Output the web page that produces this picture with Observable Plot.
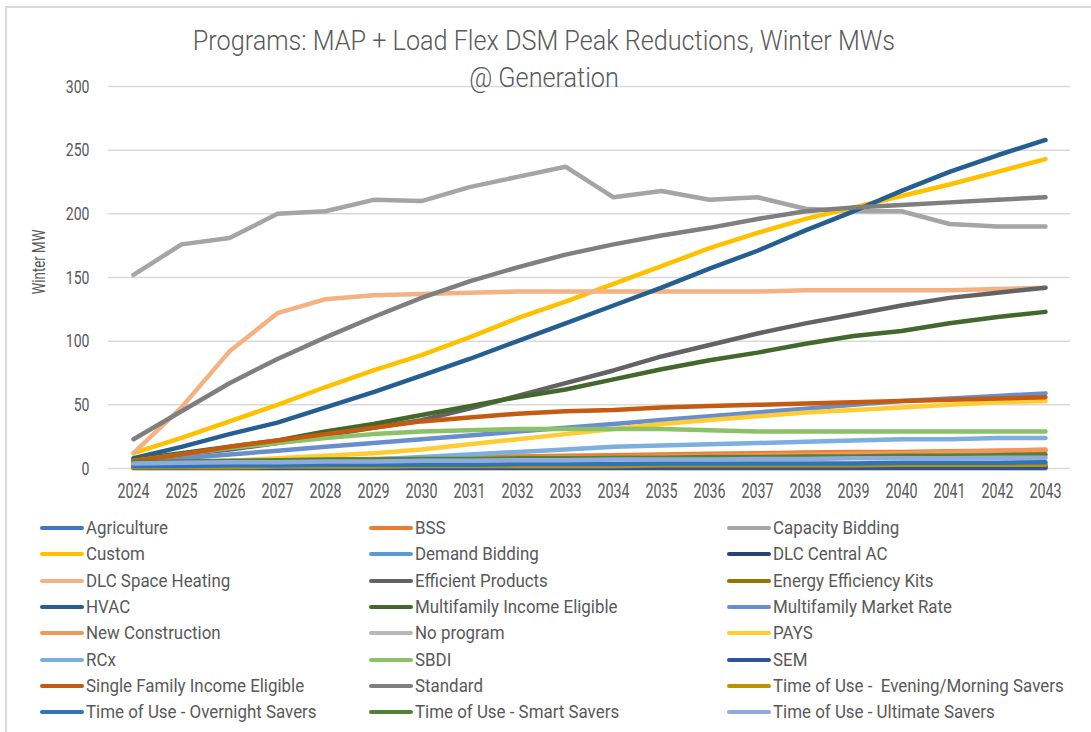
<!DOCTYPE html>
<html>
<head>
<meta charset="utf-8">
<script src="https://cdn.jsdelivr.net/npm/d3@7"></script>
<script src="https://cdn.jsdelivr.net/npm/@observablehq/plot@0.6"></script>
<style>
  html, body { margin: 0; padding: 0; background: #fff; }
  #wrap { position: relative; width: 1091px; height: 732px; overflow: hidden; font-family: "Roboto", "Liberation Sans", sans-serif; color: #595959; }
  #frame { position: absolute; left: 5px; top: 6px; width: 1200px; height: 800px; border-left: 2px solid #d9d9d9; border-top: 2px solid #d9d9d9; }
  #chart { position: absolute; left: 0; top: 0; }
  #title { position: absolute; left: 0; width: 1088px; top: 22px; text-align: center; font-size: 28px; line-height: 37px; font-weight: 300; color: #595959; transform: scaleX(0.9); transform-origin: 544px 0; }
  #ylabel { position: absolute; left: 38px; top: 262px; font-size: 19px; color: #595959; white-space: nowrap; transform: translate(-50%, -50%) rotate(-90deg) scaleX(0.7); }
  .leg { position: absolute; height: 26px; display: flex; align-items: center; font-size: 18.8px; white-space: pre; color: #595959; }
  .sw { width: 44px; height: 4px; border-radius: 2px; margin-right: 2px; flex: none; }
  .lt { display: inline-block; transform: scaleX(0.9); transform-origin: 0 50%; }
</style>
</head>
<body>
<div id="wrap">
  <div id="frame"></div>
  <div id="chart"></div>
  <div id="title">Programs: MAP + Load Flex DSM Peak Reductions, Winter MWs<br>@ Generation</div>
  <div id="ylabel">Winter MW</div>
  <div id="legend"></div>
</div>
<script>
const years = [2024,2025,2026,2027,2028,2029,2030,2031,2032,2033,2034,2035,2036,2037,2038,2039,2040,2041,2042,2043];
const yTicks = [0,50,100,150,200,250,300];

const seriesNames = [
  "Agriculture","BSS","Capacity Bidding",
  "Custom","Demand Bidding","DLC Central AC",
  "DLC Space Heating","Efficient Products","Energy Efficiency Kits",
  "HVAC","Multifamily Income Eligible","Multifamily Market Rate",
  "New Construction","No program","PAYS",
  "RCx","SBDI","SEM",
  "Single Family Income Eligible","Standard","Time of Use -  Evening/Morning Savers",
  "Time of Use - Overnight Savers","Time of Use - Smart Savers","Time of Use - Ultimate Savers"
];
const seriesColors = [
  "#4472C4","#ED7D31","#A5A5A5",
  "#FFC000","#5B9BD5","#264478",
  "#F4B183","#636363","#997300",
  "#255E91","#43682B","#698ED0",
  "#F1975A","#B7B7B7","#FFCD33",
  "#7CAFDD","#8CC168","#2F5597",
  "#C55A11","#7F7F7F","#BF9000",
  "#2E75B6","#548235","#8FAADC"
];

const agriculture       = [1.5,1.5,1.5,1.6,1.6,1.6,1.7,1.7,1.7,1.8,1.8,1.8,1.9,1.9,1.9,2,2,2,2,2];
const bss               = [3,4,5,6,7,7.5,8,9,9.5,10,10.5,11,11.5,12,12.5,13,13,13.5,14,14];
const capacityBidding   = [152,176,181,200,202,211,210,221,229,237,213,218,211,213,204,202,202,192,190,190];
const custom            = [12,24,37,50,64,77,89,103,118,131,145,159,173,185,196,205,214,223,233,243];
const demandBidding     = [0.8,0.8,0.8,0.8,0.9,0.9,0.9,0.9,1,1,1,1,1,1,1,1,1,1,1,1];
const dlcCentralAC      = [0.5,0.5,0.5,0.5,0.5,0.5,0.5,0.5,0.5,0.5,0.5,0.5,0.5,0.5,0.5,0.5,0.5,0.5,0.5,0.5];
const dlcSpaceHeating   = [12,48,92,122,133,136,137,138,139,139,139,139,139,139,140,140,140,140,141,142];
const efficientProducts = [7,11,15,20,26,32,38,47,57,67,77,88,97,106,114,121,128,134,138,142];
const energyEffKits     = [1.2,1.2,1.1,1.1,1.1,1.0,1.0,1.0,1.0,1.0,1.0,1.0,1.0,1.0,1.0,1.0,1.0,1.0,1.0,1.0];
const hvac              = [8,17,27,36,48,60,73,86,100,114,128,142,157,171,187,202,218,233,246,258];
const mfIncomeEligible  = [7,12,17,22,29,35,42,49,56,62,70,78,85,91,98,104,108,114,119,123];
const mfMarketRate      = [5,8,11,14,17,20,23,26,29,32,35,38,41,44,47,50,53,55,57,59];
const newConstruction   = [2,3,4,5,5.5,6,7,7.5,8,8.5,9,9.5,10,10.5,11,11.5,12,13,14,15];
const noProgram         = [0,0,0,0,0,0,0,0,0,0,0,0,0,0,0,0,0,0,0,0];
const pays              = [4,5,6,8,10,12,15,19,23,27,31,35,38,41,44,46,48,50,52,53];
const rcx               = [3,4,5,5,6,7,9,11,13,15,17,18,19,20,21,22,23,23,24,24];
const sbdi              = [6,11,16,20,24,27,29,30,31,31,31,31,30,29,29,29,29,29,29,29];
const sem               = [0.5,0.5,0.5,0.5,0.5,0.5,0.5,0.6,0.6,0.6,0.6,0.6,0.6,0.6,0.6,0.6,0.6,0.6,0.6,0.6];
const sfIncomeEligible  = [6,11,17,22,27,32,37,40,43,45,46,48,49,50,51,52,53,54,55,56];
const standard          = [23,45,67,86,103,119,134,147,158,168,176,183,189,196,202,205,207,209,211,213];
const touEveningMorning = [1,1,1,1.5,1.5,1.5,2,2,2,2,2,2.5,2.5,2.5,2.5,2.5,3,3,3,3];
const touOvernight      = [2,2,2.5,2.5,3,3,3,3,3.5,3.5,3.5,4,4,4,4,4,4.5,4.5,4.5,5];
const touSmart          = [5,5.5,6,6.5,7,7,7.5,7.5,8,8,8.5,8.5,9,9,9.5,9.5,10,10,10.5,11];
const touUltimate       = [4,4.5,5,5,5.5,5.5,6,6,6.5,6.5,7,7,7,7.5,7.5,8,8,8,8.5,8.5];

const seriesValues = [
  agriculture, bss, capacityBidding,
  custom, demandBidding, dlcCentralAC,
  dlcSpaceHeating, efficientProducts, energyEffKits,
  hvac, mfIncomeEligible, mfMarketRate,
  newConstruction, noProgram, pays,
  rcx, sbdi, sem,
  sfIncomeEligible, standard, touEveningMorning,
  touOvernight, touSmart, touUltimate
];

const table = [];
seriesNames.forEach((name, i) => {
  seriesValues[i].forEach((v, j) => table.push({series: name, year: years[j], value: v}));
});

const chart = Plot.plot({
  width: 1091,
  height: 510,
  marginLeft: 108,
  marginRight: 21,
  marginTop: 86,
  marginBottom: 42,
  style: {fontFamily: '"Roboto", sans-serif', fontSize: "18px", color: "#595959", background: "transparent"},
  x: {type: "point", domain: years, padding: 0.5},
  y: {domain: [0, 300]},
  color: {domain: seriesNames, range: seriesColors},
  marks: [
    Plot.ruleY(yTicks, {stroke: "#d9d9d9", strokeWidth: 1.5}),
    Plot.line(table, {x: "year", y: "value", z: "series", stroke: "series", strokeWidth: 4.5, strokeLinecap: "round", strokeLinejoin: "round"}),
    Plot.axisY({ticks: yTicks, tickSize: 0, tickPadding: 19, label: null, fontSize: 19, className: "yax"}),
    Plot.axisX({tickSize: 0, tickPadding: 15, label: null, tickFormat: d => String(d), fontSize: 21, className: "xax"})
  ]
});
document.getElementById("chart").appendChild(chart);

// condensed look for tick labels (scale each label about its own anchor)
function condense(sel, k) {
  chart.querySelectorAll(sel + " text").forEach(t => {
    const tr = t.getAttribute("transform") || "";
    t.setAttribute("transform", tr + ` scale(${k},1)`);
  });
}
condense(".yax", 0.74);
condense(".xax", 0.68);

const legend = document.getElementById("legend");
const colX = [40, 369, 727];
seriesNames.forEach((name, i) => {
  const row = Math.floor(i / 3), col = i % 3;
  const el = document.createElement("div");
  el.className = "leg";
  el.style.left = colX[col] + "px";
  el.style.top = (515 + row * 26.3) + "px";
  const sw = document.createElement("div");
  sw.className = "sw";
  sw.style.background = seriesColors[i];
  el.appendChild(sw);
  const lt = document.createElement("span");
  lt.className = "lt";
  lt.textContent = name;
  el.appendChild(lt);
  legend.appendChild(el);
});
</script>
</body>
</html>
